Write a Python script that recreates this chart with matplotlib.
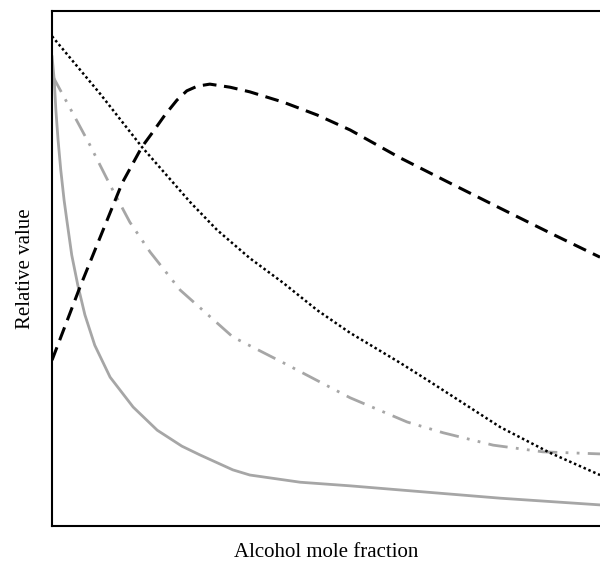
import matplotlib
matplotlib.use('Agg')
import matplotlib.pyplot as plt

# ========== data ==========
# dotted black curve
dot_x = [0.0, 0.088, 0.164, 0.252, 0.301, 0.361, 0.422, 0.484, 0.544, 0.635, 0.690, 0.818, 0.909, 1.0]
dot_y = [0.951, 0.839, 0.736, 0.629, 0.575, 0.520, 0.472, 0.419, 0.375, 0.317, 0.280, 0.192, 0.142, 0.099]

# dashed black curve
dash_x = [0.0, 0.051, 0.128, 0.164, 0.184, 0.206, 0.228, 0.246, 0.265, 0.288, 0.325, 0.361, 0.422,
          0.484, 0.544, 0.635, 0.726, 0.818, 0.909, 1.0]
dash_y = [0.322, 0.464, 0.666, 0.736, 0.765, 0.798, 0.827, 0.845, 0.854, 0.858, 0.852, 0.843, 0.823,
          0.798, 0.769, 0.715, 0.666, 0.617, 0.569, 0.522]

# grey dash-dot curve
dd_x = [0.0, 0.027, 0.069, 0.106, 0.142, 0.179, 0.234, 0.330, 0.422, 0.544, 0.648, 0.714, 0.805, 0.896, 1.0]
dd_y = [0.876, 0.823, 0.740, 0.662, 0.590, 0.532, 0.458, 0.367, 0.317, 0.249, 0.202, 0.181, 0.157, 0.144, 0.140]

# grey solid curve
sol_x = [0.0, 0.004, 0.007, 0.011, 0.016, 0.022, 0.027, 0.036, 0.047, 0.060, 0.078, 0.106, 0.148,
         0.192, 0.237, 0.270, 0.330, 0.361, 0.453, 0.544, 0.635, 0.818, 1.0]
sol_y = [0.913, 0.866, 0.808, 0.750, 0.691, 0.633, 0.594, 0.526, 0.468, 0.410, 0.351, 0.289, 0.231,
         0.186, 0.155, 0.138, 0.109, 0.099, 0.085, 0.078, 0.070, 0.054, 0.041]

GREY = '#a6a6a6'

plt.rcParams['font.family'] = ['Liberation Serif', 'DejaVu Serif']

fig = plt.figure(figsize=(6, 5.67), dpi=100)
ax = fig.add_axes([0.0867, 0.0723, 0.9133, 0.9083])

ax.plot(sol_x, sol_y, color=GREY, lw=2.0, solid_capstyle='round', solid_joinstyle='round')
ax.plot(dd_x, dd_y, color=GREY, lw=2.0, dashes=(7, 3, 1, 3, 1, 3))
ax.plot(dot_x, dot_y, color='black', lw=1.8, dashes=(1, 1.1))
ax.plot(dash_x, dash_y, color='black', lw=2.2, dashes=(4.5, 2.5))

ax.set_xlim(0, 1)
ax.set_ylim(0, 1)
ax.set_xticks([])
ax.set_yticks([])
ax.spines['right'].set_visible(False)
for s in ['left', 'top', 'bottom']:
    ax.spines[s].set_linewidth(1.5)

ax.set_xlabel('Alcohol mole fraction', fontsize=15, labelpad=12)
ax.set_ylabel('Relative value', fontsize=15, labelpad=12)

fig.savefig('out.png', dpi=100)
